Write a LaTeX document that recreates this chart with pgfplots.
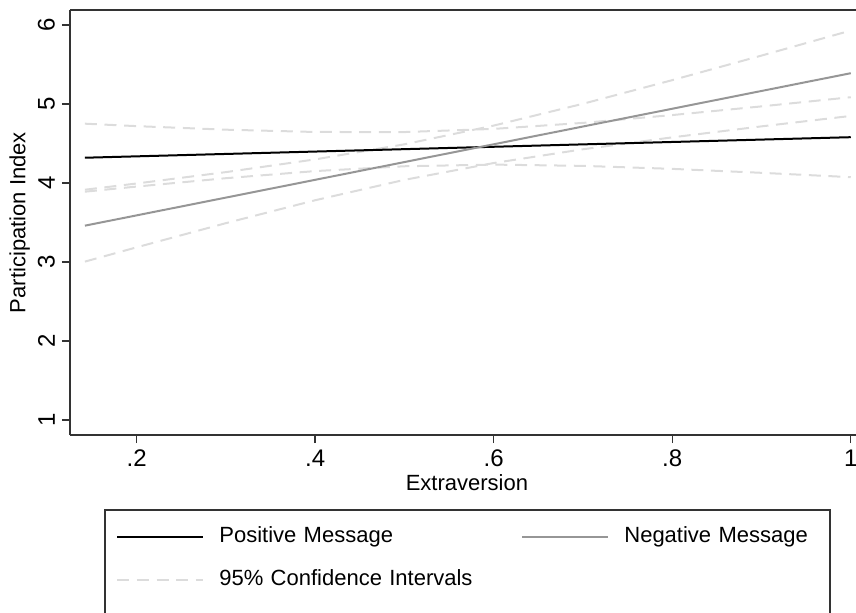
\documentclass[border=0pt]{standalone}
\usepackage{pgfplots}
\pgfplotsset{compat=1.18}
\usepackage{fontspec}
\setmainfont{Liberation Sans}
\definecolor{ciGray}{HTML}{DCDCDC}
\definecolor{negGray}{HTML}{969696}
\definecolor{frameGray}{HTML}{333333}
\newcommand{\f}{\fontsize{11}{13}\selectfont}
\newcommand{\ft}{\fontsize{12}{14}\selectfont}
\begin{document}
\begin{tikzpicture}
\begin{axis}[
  at={(35pt,88.5pt)}, anchor=south west,
  scale only axis, width=393pt, height=212.5pt,
  xmin=0.1253, xmax=1.0059, ymin=0.81, ymax=6.19,
  axis x line*=box, axis y line*=left,
  axis line style={frameGray, line width=0.8pt},
  xtick={0.2,0.4,0.6,0.8,1}, xticklabels={.2,.4,.6,.8,1},
  ytick={1,2,3,4,5,6}, yticklabels={1,2,3,4,5,6},
  xtick pos=lower, ytick pos=left,
  tick align=outside, major tick length=4pt,
  tick style={frameGray, line width=0.7pt},
  xticklabel style={font=\ft, anchor=north, yshift=0pt},
  yticklabel style={font=\ft, rotate=90, anchor=south},
  xlabel={Extraversion}, ylabel={Participation Index},
  xlabel style={font=\f, at={(axis description cs:0.505,-0.113)}, anchor=center},
  ylabel style={font=\f, at={(axis description cs:-0.064,0.5)}, anchor=center},
  legend image code/.code={\draw[#1] (0pt,0pt) -- (43pt,0pt);},
  legend columns=2,
  legend style={at={(axis description cs:0.05852,-0.2153)}, anchor=north west,
    draw=none, fill=none, inner sep=0pt, column sep=7.5pt, row sep=11pt,
    nodes={inner sep=0pt, anchor=west, text width=143.5pt, text height=8pt, text depth=2.5pt, font=\f}},
  legend cell align=left,
]
% 95% CI, positive message
\addplot[ciGray, line width=1pt, dash pattern=on 6pt off 3.8pt, forget plot] coordinates {
(0.142,4.751)(0.2,4.720)(0.3,4.675)(0.4,4.646)(0.5,4.645)(0.6,4.685)(0.7,4.761)(0.8,4.860)(0.9,4.970)(1.0,5.086)};
\addplot[ciGray, line width=1pt, dash pattern=on 6pt off 3.8pt, forget plot] coordinates {
(0.142,3.890)(0.2,3.955)(0.3,4.061)(0.4,4.151)(0.5,4.212)(0.6,4.233)(0.7,4.217)(0.8,4.179)(0.9,4.129)(1.0,4.074)};
% 95% CI, negative message
\addplot[ciGray, line width=1pt, dash pattern=on 6pt off 3.8pt, forget plot] coordinates {
(0.142,3.915)(0.2,3.994)(0.3,4.138)(0.4,4.299)(0.5,4.490)(0.6,4.727)(0.7,5.003)(0.8,5.302)(0.9,5.613)(1.0,5.930)};
\addplot[ciGray, line width=1pt, dash pattern=on 6pt off 3.8pt, forget plot] coordinates {
(0.142,3.005)(0.2,3.186)(0.3,3.492)(0.4,3.782)(0.5,4.040)(0.6,4.253)(0.7,4.427)(0.8,4.578)(0.9,4.717)(1.0,4.849)};
% fitted lines
\addplot[black, line width=1pt] coordinates {(0.142,4.32)(1.0,4.58)};
\addlegendentry{Positive Message}
\addplot[negGray, line width=1pt] coordinates {(0.142,3.46)(1.0,5.39)};
\addlegendentry{Negative Message}
\addlegendimage{ciGray, line width=1pt, dash pattern=on 6pt off 3.8pt}
\addlegendentry{95\% Confidence Intervals}
\end{axis}
\draw[frameGray, line width=0.8pt] (52.5pt,-20pt) rectangle (415pt,51pt);
\pgfresetboundingbox
\path[use as bounding box] (0pt,0pt) rectangle (428pt,306pt);
\end{tikzpicture}
\end{document}
